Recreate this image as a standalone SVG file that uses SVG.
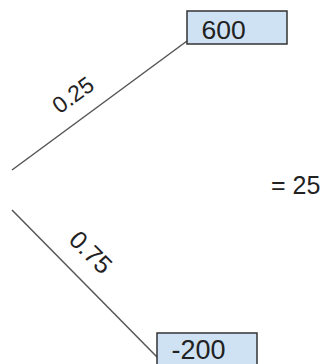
<svg xmlns="http://www.w3.org/2000/svg" width="328" height="364" viewBox="0 0 328 364">
<style>
.box{fill:#cfe2f3;stroke:#333;stroke-width:1.5}
.t{font-family:"Liberation Sans",Arial,sans-serif;fill:#222}
.c{stroke:#555;stroke-width:1.5;fill:none}
</style>
<rect width="328" height="364" fill="#fff"/>
<g id="connectors">
<line class="c" x1="12" y1="170" x2="187" y2="41"/>
<line class="c" x1="12" y1="210" x2="157" y2="357"/>
<text class="t" font-size="23" text-anchor="middle" transform="translate(73,95) rotate(-36)" y="8">0.25</text>
<text class="t" font-size="25" text-anchor="middle" transform="translate(91,252) rotate(45)" y="9">0.75</text>
</g>
<g id="n600">
<rect class="box" x="187" y="11" width="100" height="33"/>
<text class="t" font-size="26.5" x="201.5" y="38.5">600</text>
</g>
<g id="nm200">
<rect class="box" x="157" y="333" width="100" height="33"/>
<text class="t" font-size="27" x="171.5" y="359">-200</text>
</g>
<g id="result">
<text class="t" font-size="25" x="271" y="194">= 25</text>
</g>
</svg>
